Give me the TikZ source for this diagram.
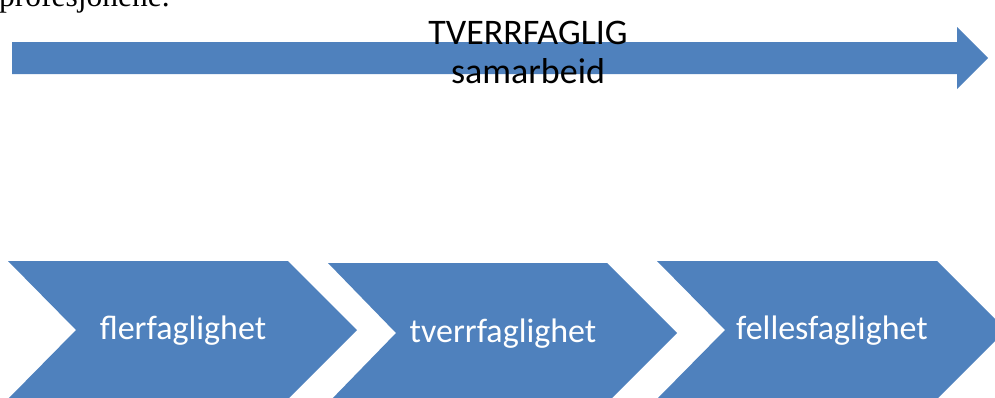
\documentclass[tikz,border=0pt]{standalone}
\usepackage{fontspec}
\setmainfont{Carlito}
\newfontfamily\serifface{Liberation Serif}
\definecolor{officeblue}{HTML}{4F81BD}
\tikzset{
  x=1pt, y=-1pt,
  band/.style={fill=officeblue, draw=none},
  chevlabel/.style={anchor=base, text=white, font=\fontsize{34}{40}\selectfont, inner sep=0pt},
  headlabel/.style={anchor=base, text=black, font=\fontsize{36}{39}\selectfont, inner sep=0pt, align=center}
}
\begin{document}
\begin{tikzpicture}
\useasboundingbox (0,0) rectangle (995,397);
\clip (0,0) rectangle (995,397);

% running text above the figure
\node[anchor=base west, inner sep=0pt, font=\serifface\fontsize{31.5}{36}\selectfont] (prevline) at (-1,6) {profesjonene.};

% long arrow
\fill[band] (12,42) -- (957,42) -- (957,27) -- (988,58) -- (957,89) -- (957,74) -- (12,74) -- cycle;
\node[headlabel] (title1) at (528,44) {TVERRFAGLIG};
\node[headlabel] (title2) at (528,83) {samarbeid};

% chevron steps
\fill[band] (8,261) -- (288,261) -- (357,330) -- (288,399) -- (8,399) -- (76,330) -- cycle;
\fill[band] (328,263) -- (607,263) -- (677,333) -- (607,403) -- (328,403) -- (396,333) -- cycle;
\fill[band] (657,261) -- (937,261) -- (1006,330) -- (937,399) -- (657,399) -- (725,330) -- cycle;

\node[chevlabel] (step1) at (183,339) {flerfaglighet};
\node[chevlabel] (step2) at (503,342) {tverrfaglighet};
\node[chevlabel] (step3) at (832,339) {fellesfaglighet};
\end{tikzpicture}
\end{document}
